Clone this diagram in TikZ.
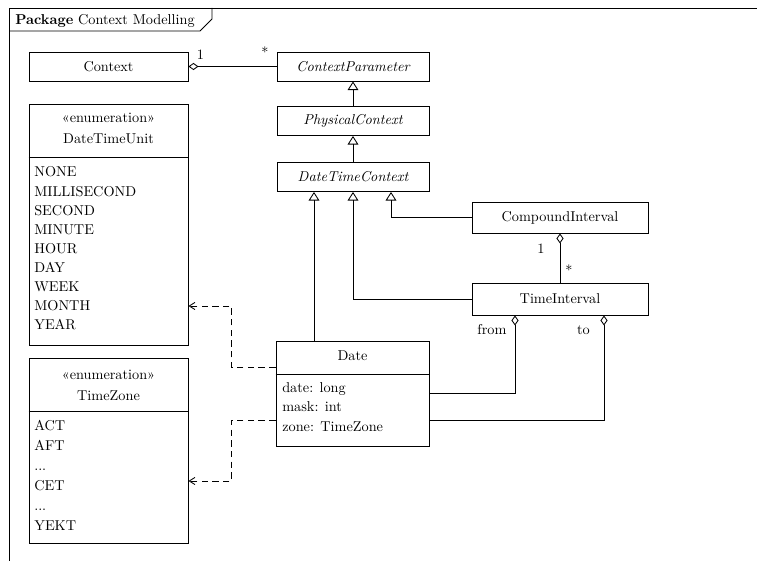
\documentclass[tikz,border=0pt]{standalone}
\usepackage{fontspec}
\usetikzlibrary{arrows.meta}
\begin{document}
\begin{tikzpicture}[x=0.7pt,y=-0.7pt,
  cls/.style={draw, line width=0.65pt, inner sep=0pt, minimum height=20.3pt},
  wide/.style={minimum width=111.3pt},
  mid/.style={minimum width=106.4pt},
  ivl/.style={minimum width=123.2pt},
  item/.style={anchor=base west, inner sep=0pt},
  head/.style={anchor=base, inner sep=0pt},
  lbl/.style={inner sep=0pt},
  conn/.style={line width=0.6pt},
  gen/.style={conn, -{Triangle[open, length=6pt, width=7.5pt]}},
  comp/.style={conn, {Diamond[open, length=7pt, width=5pt]}-},
  dep/.style={conn, dash pattern=on 4.5pt off 3pt, -{Straight Barb[length=4pt, width=5pt]}}]
\useasboundingbox (0,0) rectangle (757,561);

% package frame with its name tab
\draw[line width=0.65pt] (9,561) -- (9,8) -- (757,8);
\draw[line width=0.65pt] (9,31) -- (200,31) -- (212,19) -- (212,8);
\node[item] (pkg) at (15,25) {\textbf{Package} Context Modelling};

% classes
\node[cls, wide] (ctx) at (108.5,66.5) {Context};
\node[cls, mid] (cp) at (353,66.5) {\itshape ContextParameter};
\node[cls, mid] (pc) at (353,121) {\itshape PhysicalContext};
\node[cls, mid] (dtc) at (353,177) {\itshape DateTimeContext};
\node[cls, ivl, minimum height=21.7pt] (ci) at (560,217.5) {CompoundInterval};
\node[cls, ivl, minimum height=22.4pt] (ti) at (560,299) {TimeInterval};

% enumeration DateTimeUnit
\node[cls, wide, minimum height=168.7pt] (dtu) at (108.5,224.5) {};
\draw[line width=0.65pt] (dtu.west |- 0,157) -- (dtu.east |- 0,157);
\node[head] (dtu-st) at (108.5,122) {«enumeration»};
\node[head] (dtu-nm) at (108.5,144) {DateTimeUnit};
\foreach \t [count=\i] in {NONE,MILLISECOND,SECOND,MINUTE,HOUR,DAY,WEEK,MONTH,YEAR}
  \node[item] (dtu-\i) at (34,{157.9+19.1*\i}) {\t};

% enumeration TimeZone
\node[cls, wide, minimum height=129.5pt] (tz) at (108.5,450.5) {};
\draw[line width=0.65pt] (tz.west |- 0,411) -- (tz.east |- 0,411);
\node[head] (tz-st) at (108.5,379.5) {«enumeration»};
\node[head] (tz-nm) at (108.5,400) {TimeZone};
\node[item] (tz-1) at (34,430) {ACT};
\node[item] (tz-2) at (34,450) {AFT};
\node[item] (tz-3) at (34,470) {...};
\node[item] (tz-4) at (34,490) {CET};
\node[item] (tz-5) at (34,510) {...};
\node[item] (tz-6) at (34,530) {YEKT};

% class Date with attributes
\node[cls, minimum width=107.1pt, minimum height=73.5pt] (date) at (352.5,393.5) {};
\draw[line width=0.65pt] (date.west |- 0,374) -- (date.east |- 0,374);
\node[head] (date-nm) at (352.5,360.5) {Date};
\node[item] (date-1) at (282,392) {date: long};
\node[item] (date-2) at (282,411.7) {mask: int};
\node[item] (date-3) at (282,431.4) {zone: TimeZone};

% aggregation Context - ContextParameter
\draw[comp] (ctx.east) -- (cp.west);
\node[lbl] (m1) at (200.5,55) {1};
\node[lbl] (m2) at (265,52) {*};

% generalizations
\draw[gen] (pc.north) -- (cp.south);
\draw[gen] (dtc.north) -- (pc.south);
\coordinate (gd) at ([xshift=-27.3pt]dtc.south);
\draw[gen] (gd |- date.north) -- (gd);
\draw[gen] (ti.west) -| (dtc.south);
\draw[gen] (ci.west) -| ([xshift=26.6pt]dtc.south);

% aggregation CompoundInterval - TimeInterval
\draw[comp] (ci.south) -- (ti.north);
\node[lbl] (m3) at (541,249) {1};
\node[lbl] (m4) at (569,270) {*};

% from / to associations of TimeInterval
\draw[comp] ([xshift=-31.5pt]ti.south) |- (date.east);
\draw[comp] ([xshift=30.8pt]ti.south) |- ([yshift=-18.55pt]date.east);
\node[lbl] (from) at (492,330) {from};
\node[lbl] (to) at (583.5,330) {to};

% dependencies of Date on the enumerations
\draw[dep] ([yshift=18.55pt]date.west) -- ++(-44,0) |- ([yshift=-57.05pt]dtu.east);
\draw[dep] ([yshift=-18.55pt]date.west) -- ++(-44,0) |- ([yshift=-21.35pt]tz.east);
\end{tikzpicture}
\end{document}
